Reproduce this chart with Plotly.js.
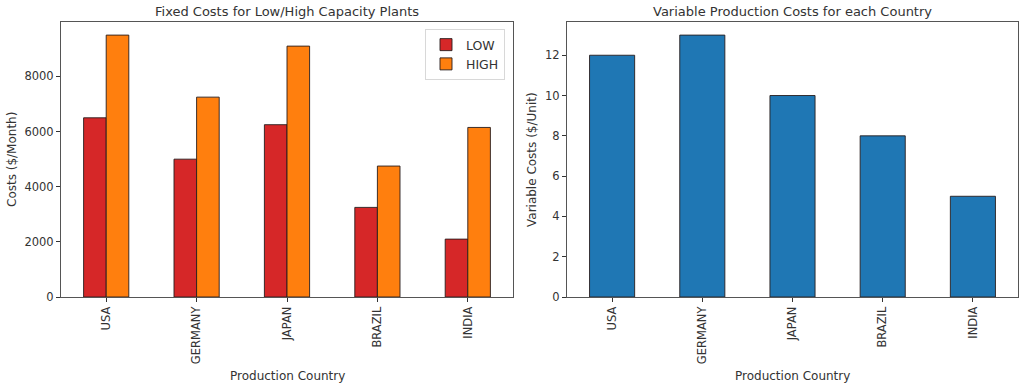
<!DOCTYPE html>
<html>
<head>
<meta charset="utf-8">
<script src="https://cdn.plot.ly/plotly-3.0.1.min.js"></script>
<style>html,body{margin:0;padding:0;background:#fff;}#chart{width:1024px;height:389px;}</style>
</head>
<body>
<div id="chart"></div>
<script>
const countries = ["USA", "GERMANY", "JAPAN", "BRAZIL", "INDIA"];
const fixedLow = [6500, 5000, 6250, 3250, 2100];
const fixedHigh = [9500, 7250, 9100, 4750, 6150];
const variableCosts = [12, 13, 10, 8, 5];

const W = 1024, H = 389;
const fx = p => p / W;
const fy = p => 1 - p / H;
const FONT = "DejaVu Sans, sans-serif";
const TXT = "#333333";
const EDGE = "rgba(40,30,30,0.9)";

const traces = [
  {type: "bar", name: "LOW", x: countries, y: fixedLow, xaxis: "x", yaxis: "y",
   width: 0.25, offset: -0.25, marker: {color: "#d62728", line: {color: EDGE, width: 1}}},
  {type: "bar", name: "HIGH", x: countries, y: fixedHigh, xaxis: "x", yaxis: "y",
   width: 0.25, offset: 0, marker: {color: "#ff7f0e", line: {color: EDGE, width: 1}}},
  {type: "bar", name: "Variable", x: countries, y: variableCosts, xaxis: "x2", yaxis: "y2",
   width: 0.5, offset: -0.25, showlegend: false, marker: {color: "#1f77b4", line: {color: EDGE, width: 1}}}
];

const axisCommon = {
  showline: true, mirror: true, linecolor: "#555555", linewidth: 1,
  showgrid: false, zeroline: false, ticks: "outside", ticklen: 4, tickcolor: "#333333",
  tickfont: {family: FONT, size: 11.5, color: TXT}
};

const layout = {
  width: W, height: H,
  margin: {l: 0, r: 0, t: 0, b: 0},
  paper_bgcolor: "#ffffff", plot_bgcolor: "#ffffff",
  barmode: "overlay",
  font: {family: FONT, size: 11.5, color: TXT},
  xaxis: Object.assign({}, axisCommon, {domain: [fx(61), fx(513)], anchor: "y", type: "category",
    range: [-0.5, 4.5], tickangle: -90}),
  yaxis: Object.assign({}, axisCommon, {domain: [fy(297), fy(22)], anchor: "x",
    range: [0, 9975], dtick: 2000, tick0: 0, tickformat: "d"}),
  xaxis2: Object.assign({}, axisCommon, {domain: [fx(567), fx(1018)], anchor: "y2", type: "category",
    range: [-0.5, 4.5], tickangle: -90}),
  yaxis2: Object.assign({}, axisCommon, {domain: [fy(297), fy(22)], anchor: "x2",
    range: [0, 13.65], dtick: 2, tick0: 0, tickformat: "d"}),
  showlegend: true,
  legend: {x: fx(425), y: fy(29), xanchor: "left", yanchor: "top",
    bgcolor: "rgba(255,255,255,0.8)", bordercolor: "#d8d8d8", borderwidth: 1,
    font: {family: FONT, size: 12.5, color: TXT}},
  annotations: [
    {text: "Fixed Costs for Low/High Capacity Plants", xref: "paper", yref: "paper",
     x: fx(287), y: fy(12), xanchor: "center", yanchor: "middle", showarrow: false,
     font: {family: FONT, size: 13, color: TXT}},
    {text: "Variable Production Costs for each Country", xref: "paper", yref: "paper",
     x: fx(792), y: fy(12), xanchor: "center", yanchor: "middle", showarrow: false,
     font: {family: FONT, size: 13, color: TXT}},
    {text: "Costs ($/Month)", xref: "paper", yref: "paper", textangle: -90,
     x: fx(12), y: fy(160), xanchor: "center", yanchor: "middle", showarrow: false,
     font: {family: FONT, size: 12, color: TXT}},
    {text: "Variable Costs ($/Unit)", xref: "paper", yref: "paper", textangle: -90,
     x: fx(532), y: fy(160), xanchor: "center", yanchor: "middle", showarrow: false,
     font: {family: FONT, size: 12, color: TXT}},
    {text: "Production Country", xref: "paper", yref: "paper",
     x: fx(287), y: fy(376), xanchor: "center", yanchor: "middle", showarrow: false,
     font: {family: FONT, size: 12, color: TXT}},
    {text: "Production Country", xref: "paper", yref: "paper",
     x: fx(792), y: fy(376), xanchor: "center", yanchor: "middle", showarrow: false,
     font: {family: FONT, size: 12, color: TXT}}
  ]
};

Plotly.newPlot("chart", traces, layout, {displayModeBar: false, staticPlot: true});
</script>
</body>
</html>
